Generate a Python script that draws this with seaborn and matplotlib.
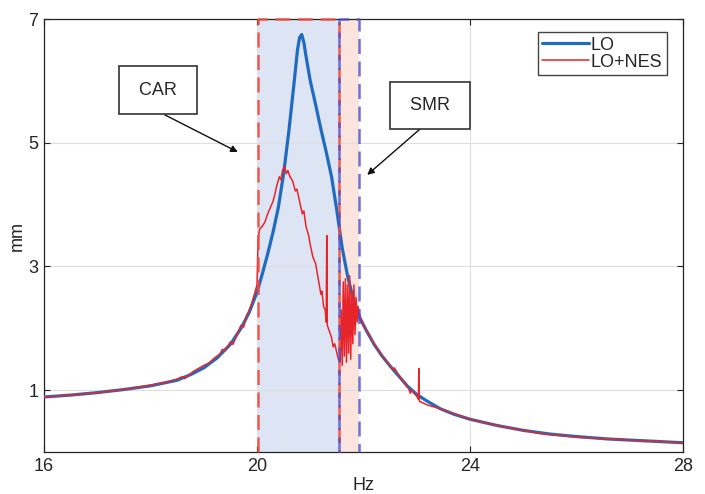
import matplotlib
matplotlib.use("Agg")
import matplotlib.pyplot as plt
import numpy as np
import pandas as pd
import seaborn as sns

# ----------------------------
# Data
# ----------------------------
LO_HZ = [16.0, 16.5, 17.0, 17.5, 18.0, 18.5, 18.75, 19.0, 19.25, 19.5, 19.7, 19.85,
         20.0, 20.1, 20.2, 20.3, 20.4, 20.5, 20.6, 20.7, 20.76, 20.8, 20.84, 20.88,
         20.93, 21.0, 21.1, 21.2, 21.3, 21.4, 21.5, 21.6, 21.7, 21.8, 21.93, 22.05,
         22.2, 22.35, 22.5, 22.65, 22.82, 23.0, 23.2, 23.44, 23.7, 24.0, 24.5, 25.0,
         25.5, 26.0, 26.6, 27.3, 28.0]
LO_MM = [0.89, 0.92, 0.96, 1.01, 1.07, 1.16, 1.25, 1.36, 1.52, 1.74, 2.0, 2.25,
         2.58, 2.88, 3.2, 3.55, 3.95, 4.5, 5.2, 6.0, 6.5, 6.7, 6.75, 6.62,
         6.35, 6.0, 5.62, 5.22, 4.85, 4.45, 3.9, 3.3, 2.85, 2.5, 2.17, 1.97,
         1.74, 1.55, 1.39, 1.24, 1.07, 0.93, 0.82, 0.70, 0.61, 0.53, 0.43, 0.35,
         0.29, 0.25, 0.21, 0.18, 0.15]

NES_HZ = [16.0, 16.5, 17.0, 17.5, 18.0, 18.3, 18.5, 18.6, 18.65, 18.8, 19.0, 19.1,
          19.2, 19.3, 19.35, 19.4, 19.5, 19.55, 19.65, 19.7, 19.75, 19.8, 19.85, 19.9,
          19.95, 20.0, 20.02, 20.05, 20.1, 20.15, 20.2, 20.25, 20.3, 20.33, 20.37, 20.42,
          20.45, 20.48, 20.52, 20.55, 20.58, 20.62, 20.67, 20.72, 20.75, 20.8, 20.85, 20.88,
          20.92, 20.97, 21.0, 21.05, 21.1, 21.13, 21.17, 21.2, 21.22, 21.25, 21.28, 21.3,
          21.31, 21.32, 21.36, 21.4, 21.43, 21.46, 21.5, 21.53, 21.56, 21.58, 21.6, 21.62,
          21.64, 21.66, 21.68, 21.7, 21.72, 21.74, 21.76, 21.78, 21.8, 21.82, 21.84, 21.86,
          21.88, 21.9, 21.93, 22.0, 22.18, 22.35, 22.5, 22.55, 22.58, 22.65, 22.8, 22.85,
          22.88, 22.9, 22.95, 23.0, 23.03, 23.04, 23.05, 23.1, 23.2, 23.44, 24.0, 24.5,
          25.0, 25.3, 26.0, 26.6, 27.3, 28.0]
NES_MM = [0.89, 0.92, 0.96, 1.01, 1.08, 1.13, 1.18, 1.22, 1.19, 1.30, 1.40, 1.44,
          1.52, 1.58, 1.66, 1.64, 1.78, 1.74, 1.95, 2.05, 2.02, 2.2, 2.28, 2.4,
          2.55, 2.7, 3.45, 3.6, 3.65, 3.72, 3.85, 3.95, 4.05, 4.15, 4.3, 4.45,
          4.40, 4.55, 4.62, 4.5, 4.55, 4.45, 4.38, 4.22, 4.25, 4.05, 3.85, 3.9,
          3.65, 3.5, 3.35, 3.15, 3.05, 2.9, 2.7, 2.55, 2.6, 2.35, 2.3, 2.1,
          3.5, 2.05, 1.95, 1.85, 1.7, 1.75, 1.6, 1.5, 1.45, 2.3, 1.4, 2.75,
          1.55, 2.8, 1.45, 2.7, 1.6, 2.85, 1.5, 2.6, 1.75, 2.7, 1.9, 2.5,
          2.1, 2.35, 2.2, 2.05, 1.78, 1.55, 1.40, 1.33, 1.36, 1.26, 1.08, 1.02,
          0.95, 1.0, 0.95, 0.9, 0.85, 1.35, 0.82, 0.80, 0.76, 0.70, 0.53, 0.43,
          0.35, 0.30, 0.24, 0.21, 0.18, 0.15]

CAR_BAND = (20.02, 21.54)
SMR_BAND = (21.54, 21.92)

X_TICKS = [16, 20, 24, 28]
Y_TICKS = [1, 3, 5, 7]

BLUE = "#1f6bbf"
RED = "#e8242b"

# ----------------------------
# Style
# ----------------------------
sns.set_theme(style="whitegrid")
plt.rcParams["font.family"] = ["Liberation Sans Narrow", "Liberation Sans", "DejaVu Sans"]
plt.rcParams["axes.unicode_minus"] = False

df = pd.concat([
    pd.DataFrame({"Hz": LO_HZ, "mm": LO_MM, "series": "LO"}),
    pd.DataFrame({"Hz": NES_HZ, "mm": NES_MM, "series": "LO+NES"}),
])

fig, ax = plt.subplots(figsize=(7.05, 4.94), dpi=100)
fig.subplots_adjust(left=0.0624, right=0.9688, bottom=0.085, top=0.9615)
ax.set_facecolor("white")

# shaded regions
ax.axvspan(*CAR_BAND, facecolor=(0.80, 0.84, 0.93, 0.65), edgecolor="none", zorder=0.3)
ax.axvspan(*SMR_BAND, facecolor=(0.98, 0.85, 0.82, 0.7), edgecolor="none", zorder=0.3)

sns.lineplot(data=df[df["series"] == "LO"], x="Hz", y="mm", color=BLUE, lw=2.3,
             label="LO", ax=ax, zorder=3)
sns.lineplot(data=df[df["series"] == "LO+NES"], x="Hz", y="mm", color=RED, lw=1.1,
             label="LO+NES", ax=ax, zorder=4)


def dashed_outline(band, color):
    # left, top and right sides of a band (bottom is hidden by the axis)
    x0, x1 = band
    ax.plot([x0, x0, x1, x1], [0, 7, 7, 0], color=color, linestyle=(0, (6, 3)),
            lw=1.8, zorder=5, clip_on=False)


dashed_outline(CAR_BAND, (0.93, 0.30, 0.25, 0.9))
dashed_outline(SMR_BAND, (0.30, 0.30, 0.80, 0.8))

ax.set_xlim(16, 28)
ax.set_ylim(0, 7)
ax.set_xticks(X_TICKS)
ax.set_yticks(Y_TICKS)
ax.grid(True, color="#dedede", lw=0.8)
ax.tick_params(axis="both", direction="in", length=4, width=0.8, color="#222222",
               labelsize=13, top=True, right=True, bottom=True, left=True, pad=4)
for s in ax.spines.values():
    s.set_color("#222222")
    s.set_linewidth(0.9)
ax.set_xlabel("Hz", fontsize=13, labelpad=2)
ax.set_ylabel("mm", fontsize=13, labelpad=2)

# annotations
box = dict(boxstyle="square,pad=0.85", fc="white", ec="#333333", lw=1.2)
arrow = dict(arrowstyle="-|>", color="#111111", lw=1.0, mutation_scale=10,
             shrinkA=0, shrinkB=0)
ax.annotate("", xy=(19.64, 4.85), xytext=(18.27, 5.45), arrowprops=arrow, zorder=6)
ax.text(18.14, 5.85, " CAR ", fontsize=13, ha="center", va="center", bbox=box, zorder=7)
ax.annotate("", xy=(22.07, 4.48), xytext=(23.1, 5.25), arrowprops=arrow, zorder=6)
ax.text(23.25, 5.6, " SMR ", fontsize=13, ha="center", va="center", bbox=box, zorder=7)

leg = ax.legend(loc="upper right", bbox_to_anchor=(0.975, 0.97), fontsize=13,
                frameon=True, fancybox=False, edgecolor="#444444", framealpha=1,
                handlelength=2.6, handletextpad=0.1, labelspacing=0.0,
                borderpad=0.25, borderaxespad=0)
leg.get_frame().set_linewidth(1.0)
leg.set_zorder(10)

fig.savefig("out.png", dpi=100)
